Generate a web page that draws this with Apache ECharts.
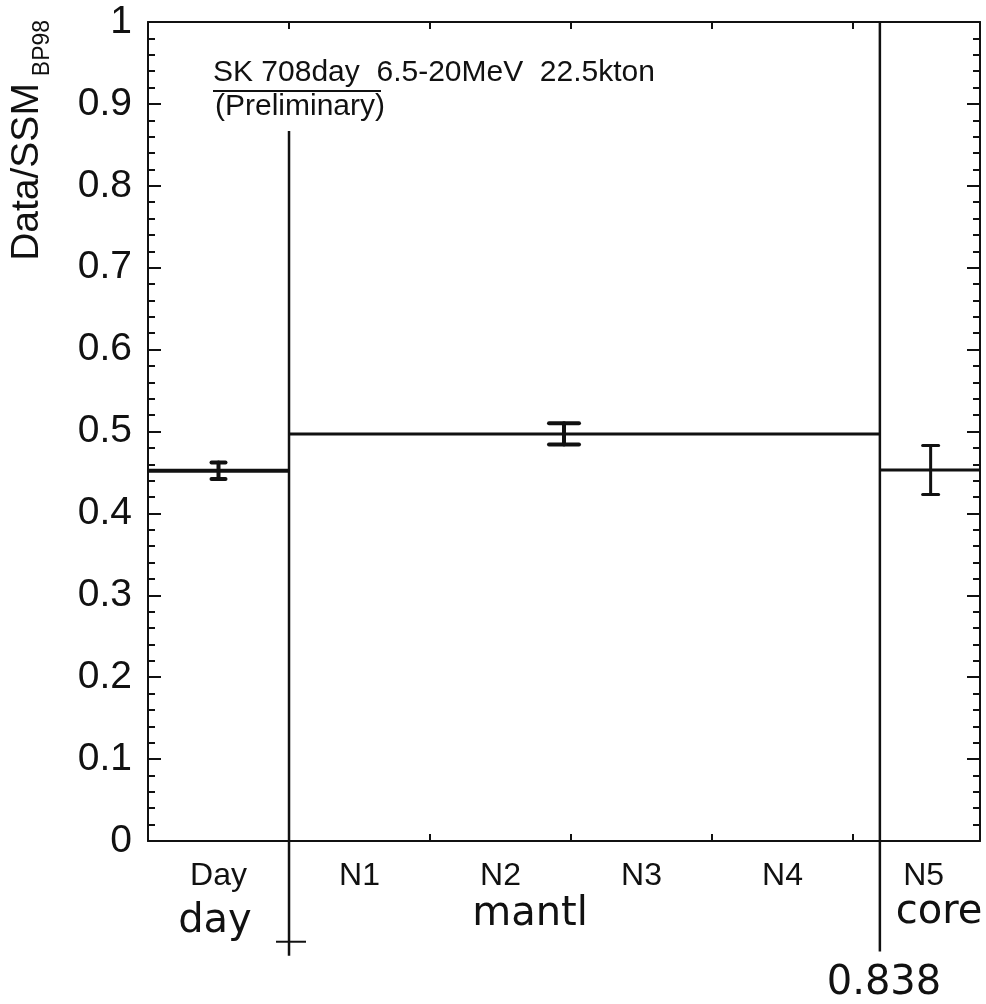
<!DOCTYPE html>
<html>
<head>
<meta charset="utf-8">
<script src="https://cdn.jsdelivr.net/npm/echarts@6/dist/echarts.min.js"></script>
<style>
html, body { margin: 0; padding: 0; background: #fff; }
#chart { width: 986px; height: 1004px; }
</style>
</head>
<body>
<div id="chart"></div>
<script>
// bins along cos(zenith); Day bin sits left of 0
const binNames = ['Day', 'N1', 'N2', 'N3', 'N4', 'N5']
const binCenters = [-0.1, 0.1, 0.3, 0.5, 0.7, 0.9]
const binEdges = [0, 0.2, 0.4, 0.6, 0.8]

// day / mantle / core rates
const regionStart = [-0.2, 0, 0.838]
const regionEnd = [0, 0.838, 0.98]
const regionRate = [0.452, 0.497, 0.453]
const pointX = [-0.1, 0.39, 0.91]
const pointErr = [0.010, 0.013, 0.030]

// region boundaries (drawn past the axis, like the original)
const boundaryX = [0, 0.838]
const boundaryTop = [0.867, 1]
const boundaryBottom = [-0.14, -0.135]

const regionLineWidth = [4, 3, 3]
const errCapHalf = [7, 15, 8]
const errLineWidth = [4, 4, 3]

const ink = '#111'
const font = '"Liberation Sans", Arial, sans-serif'
const handFont = '"DejaVu Sans", sans-serif'

const chart = echarts.init(document.getElementById('chart'))

const yCommon = {
  type: 'value',
  min: 0,
  max: 1,
  interval: 0.1,
  splitLine: { show: false },
  axisLine: { show: true, onZero: false, lineStyle: { color: ink, width: 2 } },
  axisTick: { show: true, inside: true, length: 13, lineStyle: { color: ink, width: 2 } },
  minorTick: { show: true, splitNumber: 5, length: 7, lineStyle: { color: ink, width: 2 } }
}

const xCommon = {
  type: 'value',
  min: -0.2,
  max: 0.98,
  interval: 0.2,
  splitLine: { show: false },
  axisLine: { show: true, onZero: false, lineStyle: { color: ink, width: 2 } },
  axisTick: { inside: true, length: 7, customValues: binEdges, lineStyle: { color: ink, width: 2 } }
}

const option = {
  backgroundColor: '#fff',
  animation: false,
  grid: { left: 148, right: 6, top: 22, bottom: 163 },
  xAxis: [Object.assign({}, xCommon, {
    position: 'bottom',
    axisLabel: {
      customValues: binCenters,
      margin: 19,
      fontFamily: font,
      fontSize: 32,
      color: ink,
      formatter: v => {
        const i = binCenters.findIndex(c => Math.abs(c - v) < 1e-6)
        return i >= 0 ? binNames[i] : ''
      }
    }
  }), Object.assign({}, xCommon, {
    position: 'top',
    axisLabel: { show: false }
  })],
  yAxis: [Object.assign({}, yCommon, {
    position: 'left',
    axisLabel: { margin: 16, fontFamily: font, fontSize: 39, color: ink }
  }), Object.assign({}, yCommon, {
    position: 'right',
    axisLabel: { show: false }
  })],
  graphic: [
    { type: 'text', x: 27, y: 172, rotation: Math.PI / 2,
      style: { text: 'Data/SSM', font: '39px ' + font, fill: ink, align: 'center', verticalAlign: 'middle' } },
    { type: 'text', x: 43, y: 48, rotation: Math.PI / 2,
      style: { text: 'BP98', font: '23px ' + font, fill: ink, align: 'center', verticalAlign: 'middle' } },
    { type: 'text', x: 213, y: 73,
      style: { text: 'SK 708day  6.5-20MeV  22.5kton', font: '30px ' + font, fill: ink, verticalAlign: 'middle' } },
    { type: 'line', shape: { x1: 213, y1: 91, x2: 381, y2: 91 }, style: { stroke: ink, lineWidth: 2 } },
    { type: 'text', x: 215, y: 107,
      style: { text: '(Preliminary)', font: '30px ' + font, fill: ink, verticalAlign: 'middle' } },
    { type: 'text', x: 215, y: 922,
      style: { text: 'day', font: '40px ' + handFont, fill: ink, align: 'center', verticalAlign: 'middle' } },
    { type: 'text', x: 530, y: 915,
      style: { text: 'mantl', font: '40px ' + handFont, fill: ink, align: 'center', verticalAlign: 'middle' } },
    { type: 'text', x: 939, y: 913,
      style: { text: 'core', font: '40px ' + handFont, fill: ink, align: 'center', verticalAlign: 'middle' } },
    { type: 'text', x: 884, y: 984,
      style: { text: '0.838', font: '40px ' + handFont, fill: ink, align: 'center', verticalAlign: 'middle' } }
  ],
  series: [{
    name: 'boundaries',
    type: 'custom',
    clip: false,
    data: boundaryX.map((x, i) => [x, boundaryTop[i], boundaryBottom[i]]),
    renderItem(params, api) {
      const top = api.coord([api.value(0), api.value(1)])
      const bot = api.coord([api.value(0), api.value(2)])
      const children = [{
        type: 'line',
        shape: { x1: top[0], y1: top[1], x2: bot[0], y2: bot[1] },
        style: { stroke: ink, lineWidth: 2.5 }
      }]
      if (params.dataIndex === 0) {
        const c = api.coord([api.value(0), -0.123])
        children.push({
          type: 'line',
          shape: { x1: c[0] - 13, y1: c[1], x2: c[0] + 17, y2: c[1] },
          style: { stroke: ink, lineWidth: 2 }
        })
      }
      return { type: 'group', children }
    }
  }, {
    name: 'rate',
    type: 'custom',
    data: regionRate.map((r, i) => [regionStart[i], regionEnd[i], r]),
    renderItem(params, api) {
      const a = api.coord([api.value(0), api.value(2)])
      const b = api.coord([api.value(1), api.value(2)])
      return {
        type: 'line',
        shape: { x1: a[0], y1: a[1], x2: b[0], y2: b[1] },
        style: { stroke: ink, lineWidth: regionLineWidth[params.dataIndex] }
      }
    }
  }, {
    name: 'error',
    type: 'custom',
    data: regionRate.map((r, i) => [pointX[i], r, pointErr[i]]),
    renderItem(params, api) {
      const x = api.value(0), y = api.value(1), e = api.value(2)
      const hi = api.coord([x, y + e])
      const lo = api.coord([x, y - e])
      const w = errCapHalf[params.dataIndex]
      const lw = errLineWidth[params.dataIndex]
      const st = { stroke: ink, lineWidth: lw, lineCap: 'round' }
      return {
        type: 'group',
        children: [
          { type: 'line', shape: { x1: hi[0], y1: hi[1], x2: lo[0], y2: lo[1] }, style: st },
          { type: 'line', shape: { x1: hi[0] - w, y1: hi[1], x2: hi[0] + w, y2: hi[1] }, style: st },
          { type: 'line', shape: { x1: lo[0] - w, y1: lo[1], x2: lo[0] + w, y2: lo[1] }, style: st }
        ]
      }
    }
  }]
}

chart.setOption(option)
</script>
</body>
</html>
